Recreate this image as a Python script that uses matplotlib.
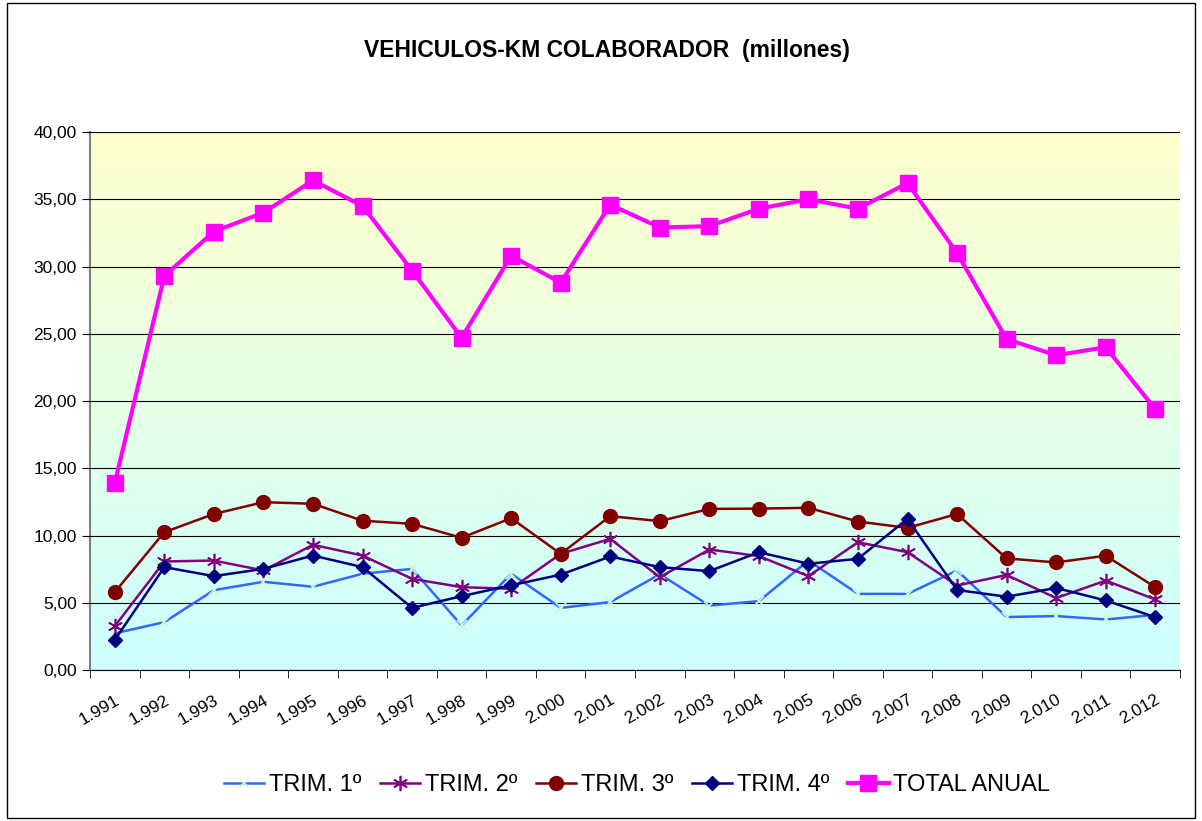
import numpy as np
import matplotlib
matplotlib.use("Agg")
import matplotlib.pyplot as plt
from matplotlib.patches import Rectangle

plt.rcParams['font.family'] = ['Liberation Sans', 'DejaVu Sans']

years = ['1.991', '1.992', '1.993', '1.994', '1.995', '1.996', '1.997', '1.998',
         '1.999', '2.000', '2.001', '2.002', '2.003', '2.004', '2.005', '2.006',
         '2.007', '2.008', '2.009', '2.010', '2.011', '2.012']

trim1 = [2.73, 3.56, 5.94, 6.56, 6.19, 7.16, 7.52, 3.31, 7.16, 4.62, 5.05,
         7.12, 4.79, 5.12, 8.14, 5.66, 5.66, 7.40, 3.94, 4.01, 3.76, 4.10]
trim2 = [3.26, 8.07, 8.14, 7.40, 9.31, 8.51, 6.78, 6.16, 6.04, 8.64, 9.75,
         6.90, 8.96, 8.47, 6.98, 9.50, 8.76, 6.28, 7.07, 5.35, 6.65, 5.25]
trim3 = [5.79, 10.25, 11.60, 12.48, 12.36, 11.10, 10.87, 9.83, 11.29, 8.64, 11.44,
         11.07, 11.98, 12.00, 12.06, 11.04, 10.57, 11.60, 8.30, 8.00, 8.50, 6.16]
trim4 = [2.24, 7.65, 6.98, 7.52, 8.51, 7.65, 4.62, 5.49, 6.30, 7.09, 8.44,
         7.65, 7.35, 8.76, 7.90, 8.27, 11.24, 5.95, 5.45, 6.10, 5.17, 3.93]
total = [13.9, 29.3, 32.6, 34.0, 36.4, 34.5, 29.7, 24.7, 30.8, 28.8, 34.6,
         32.9, 33.0, 34.3, 35.0, 34.3, 36.2, 31.0, 24.6, 23.4, 24.0, 19.4]

x = np.arange(len(years))

fig = plt.figure(figsize=(12.02, 8.21), dpi=100)
fig.patches.append(Rectangle((0.006, 0.004), 0.988, 0.992, transform=fig.transFigure,
                             fill=False, edgecolor='black', linewidth=1))
ax = fig.add_axes([0.0749, 0.1839, 0.9068, 0.6553])

# yellow-to-cyan gradient background
grad = np.linspace(0, 1, 256).reshape(-1, 1)
top = np.array([1.0, 1.0, 0.80])
bot = np.array([0.80, 1.0, 1.0])
img = top * (1 - grad[..., None]) + bot * grad[..., None]
ax.imshow(img, extent=[-0.5, len(years) - 0.5, 0, 40], aspect='auto', zorder=0)

ax.set_xlim(-0.5, len(years) - 0.5)
ax.set_ylim(0, 40)
yt = np.arange(0, 41, 5)
ax.set_yticks(yt)
ax.set_yticklabels([('%.2f' % v).replace('.', ',') for v in yt])
ax.yaxis.grid(True, color='black', linewidth=0.8, zorder=1)
ax.set_axisbelow(False)

ax.plot(x, trim1, color='#3366FF', lw=1.8, marker='x', ms=7, mec='#CCFFCC', mew=1.2,
        label='TRIM. 1º', zorder=3)
ax.plot(x, trim2, color='#800080', lw=1.8, marker=(6, 2, 0), ms=11, mec='#800080', mew=1.2,
        label='TRIM. 2º', zorder=3)
ax.plot(x, trim3, color='#800000', lw=1.8, marker='o', ms=10, mfc='#800000', mec='#800000',
        label='TRIM. 3º', zorder=3)
ax.plot(x, trim4, color='#000080', lw=1.8, marker='D', ms=7, mfc='#000080', mec='#000080',
        label='TRIM. 4º', zorder=3)
ax.plot(x, total, color='#FF00FF', lw=3, marker='s', ms=12, mfc='#FF00FF', mec='#FF00FF',
        label='TOTAL ANUAL', zorder=4)

ax.set_xticks(np.arange(-0.5, len(years), 1), minor=True)
ax.set_xticks(x)
ax.set_xticklabels(years, rotation=30, ha='right', rotation_mode='anchor', fontsize=12.5)
ax.tick_params(axis='x', which='major', length=0, pad=16)
ax.tick_params(axis='x', which='minor', length=6, color='black')
ax.tick_params(axis='y', labelsize=12.5, length=6, color='black')

for s in ['top', 'right']:
    ax.spines[s].set_visible(False)
ax.spines['left'].set_color('#808080')
ax.spines['left'].set_linewidth(1.5)
ax.spines['bottom'].set_color('black')

fig.text(0.505, 0.938, 'VEHICULOS-KM COLABORADOR  (millones)', ha='center', va='center',
         fontsize=16.5, fontweight='bold')

fig.legend(loc='center', bbox_to_anchor=(0.53, 0.044), ncol=5, frameon=False,
           fontsize=17, handlelength=1.7, handletextpad=0.2, columnspacing=0.8)

fig.savefig('out.png', dpi=100)
